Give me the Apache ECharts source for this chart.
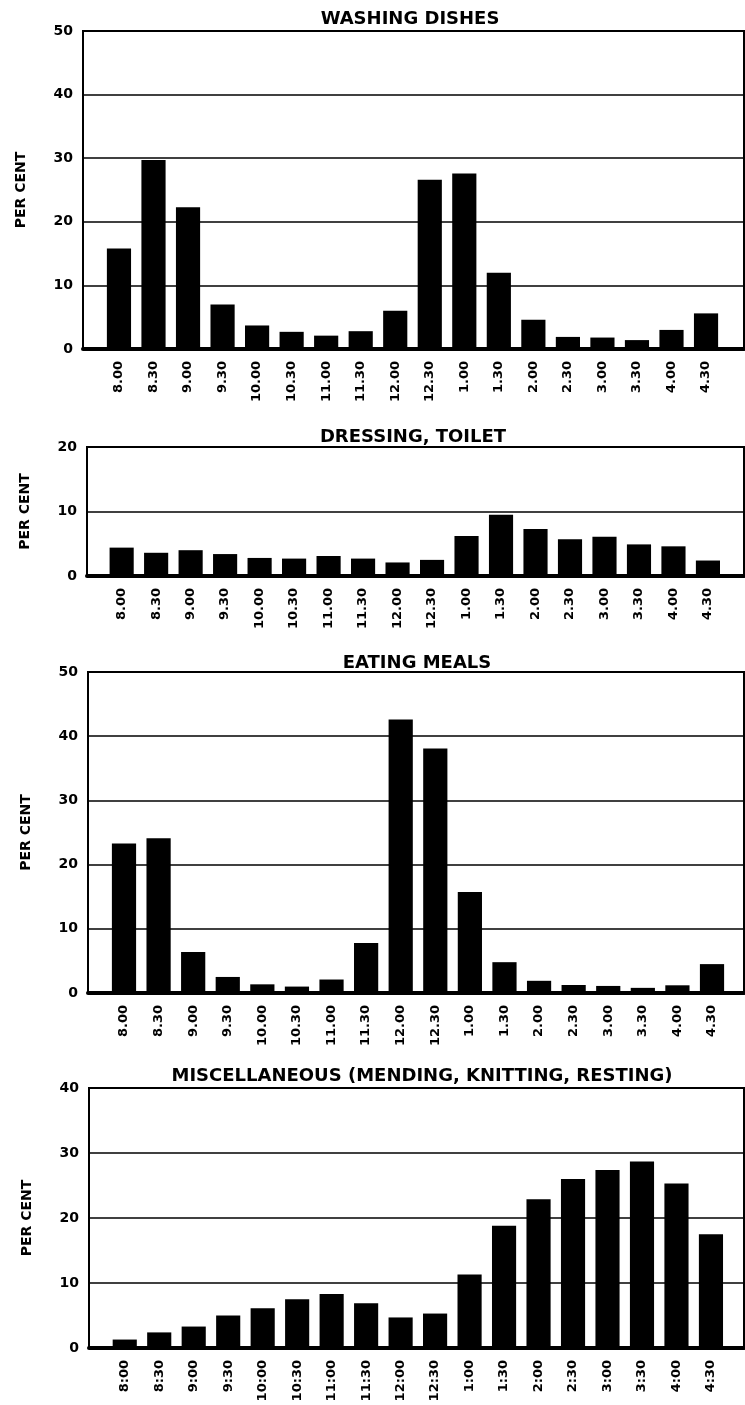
<!DOCTYPE html>
<html>
<head>
<meta charset="utf-8">
<script src="https://cdn.jsdelivr.net/npm/echarts@6/dist/echarts.min.js"></script>
<style>
  html, body { margin: 0; padding: 0; background: #fff; }
  #chart { width: 745px; height: 1405px; }
</style>
</head>
<body>
<div id="chart"></div>
<script>
// ---- data ----
const timeLabels = ['8.00','8.30','9.00','9.30','10.00','10.30','11.00','11.30','12.00','12.30','1.00','1.30','2.00','2.30','3.00','3.30','4.00','4.30'];
const timeLabelsMisc = ['8:00','8:30','9:00','9:30','10:00','10:30','11:00','11:30','12:00','12:30','1:00','1:30','2:00','2:30','3:00','3:30','4:00','4:30'];
const washingDishes = [15.8, 29.7, 22.3, 7.0, 3.7, 2.7, 2.1, 2.8, 6.0, 26.6, 27.6, 12.0, 4.6, 1.9, 1.8, 1.4, 3.0, 5.6];
const dressingToilet = [4.4, 3.6, 4.0, 3.4, 2.8, 2.7, 3.1, 2.7, 2.1, 2.5, 6.2, 9.5, 7.3, 5.7, 6.1, 4.9, 4.6, 2.4];
const eatingMeals = [23.3, 24.1, 6.4, 2.5, 1.35, 1.0, 2.1, 7.8, 42.6, 38.1, 15.75, 4.8, 1.9, 1.25, 1.1, 0.8, 1.2, 4.5];
const miscellaneous = [1.3, 2.4, 3.3, 5.0, 6.1, 7.5, 8.3, 6.9, 4.7, 5.3, 11.3, 18.8, 22.9, 26.0, 27.4, 28.7, 25.3, 17.5];
const panelTitles = ['WASHING DISHES', 'DRESSING, TOILET', 'EATING MEALS', 'MISCELLANEOUS (MENDING, KNITTING, RESTING)'];
const yMaxima = [50, 20, 50, 40];
const yAxisName = 'PER CENT';

// ---- layout (positions/styles only) ----
const layout = [
  { top: 31,   height: 318, frameLeft: 83, barLeft: 101.7, barRight: 21.7, titleX: 405, titleTop: 5 },
  { top: 447,  height: 129, frameLeft: 87, barLeft: 104.4, barRight: 19.8, titleX: 408, titleTop: 423 },
  { top: 672,  height: 321, frameLeft: 88, barLeft: 106.7, barRight: 15.7, titleX: 412, titleTop: 649 },
  { top: 1088, height: 260, frameLeft: 89, barLeft: 107.5, barRight: 16.8, titleX: 417, titleTop: 1062 }
];
const panelData = [washingDishes, dressingToilet, eatingMeals, miscellaneous];
const panelCats = [timeLabels, timeLabels, timeLabels, timeLabelsMisc];
const FONT = 'DejaVu Sans';

const grid = [], xAxis = [], yAxis = [], series = [], title = [];
layout.forEach((L, p) => {
  const gf = 2 * p, gb = 2 * p + 1;
  title.push({
    text: panelTitles[p], left: L.titleX, top: L.titleTop, textAlign: 'center',
    textStyle: { fontFamily: FONT, fontWeight: 'bold', fontSize: 18, color: '#000' }
  });
  grid.push({ left: L.frameLeft, right: 1, top: L.top, height: L.height, show: true,
              borderColor: '#000', borderWidth: 2, backgroundColor: 'transparent' });
  grid.push({ left: L.barLeft, right: L.barRight, top: L.top, height: L.height });
  xAxis.push({
    gridIndex: gf, type: 'value', min: 0, max: 1,
    axisLine: { show: true, onZero: false, lineStyle: { color: '#000', width: 4 } },
    axisTick: { show: false }, axisLabel: { show: false }, splitLine: { show: false }
  });
  xAxis.push({
    gridIndex: gb, type: 'category', data: panelCats[p],
    axisLine: { show: false }, axisTick: { show: false },
    axisLabel: { rotate: 90, interval: 0, margin: 12, color: '#000',
                 fontFamily: FONT, fontWeight: 'bold', fontSize: 13 }
  });
  yAxis.push({
    gridIndex: gf, type: 'value', min: 0, max: yMaxima[p], interval: 10,
    name: yAxisName, nameLocation: 'middle', nameRotate: 90, nameGap: 55,
    nameTextStyle: { fontFamily: FONT, fontWeight: 'bold', fontSize: 14, color: '#000' },
    axisLine: { show: true, lineStyle: { color: '#000', width: 2 } },
    axisTick: { show: false },
    axisLabel: { margin: 10, color: '#000', fontFamily: FONT, fontWeight: 'bold', fontSize: 14 },
    splitLine: { show: true, lineStyle: { color: '#000', width: 1.5 } }
  });
  yAxis.push({ gridIndex: gb, type: 'value', min: 0, max: yMaxima[p], show: false });
  series.push({
    type: 'bar', xAxisIndex: gb, yAxisIndex: gb, data: panelData[p],
    barWidth: '70%', itemStyle: { color: '#000' }, silent: true
  });
});

const chart = echarts.init(document.getElementById('chart'), null, { renderer: 'canvas' });
chart.setOption({
  backgroundColor: '#fff',
  animation: false,
  title, grid, xAxis, yAxis, series
});
</script>
</body>
</html>
